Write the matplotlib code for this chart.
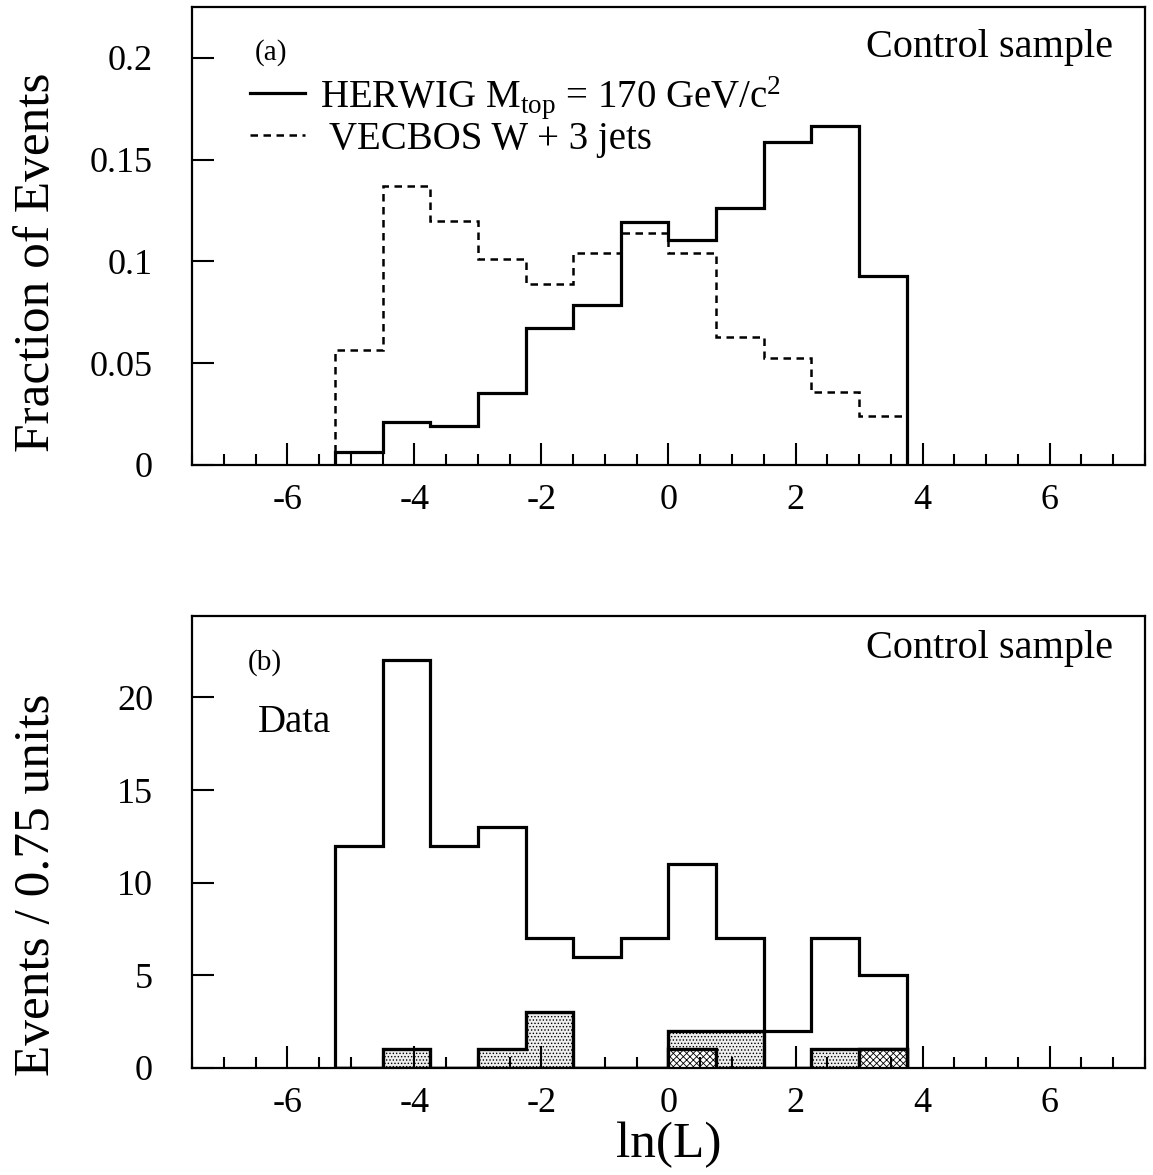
import matplotlib

matplotlib.use("Agg")
import matplotlib.pyplot as plt  # noqa: E402
import numpy as np  # noqa: E402
from matplotlib.ticker import FormatStrFormatter, MultipleLocator  # noqa: E402

# bin edges of ln(L), 0.75 units wide
EDGES = np.arange(-5.25, 3.76, 0.75)

# (a) normalised Monte Carlo shapes
HERWIG = [0.0065, 0.0212, 0.0190, 0.0352, 0.0673, 0.0784,
          0.1193, 0.1103, 0.1261, 0.1585, 0.1667, 0.0926]
VECBOS = [0.0564, 0.1368, 0.1198, 0.1013, 0.0891, 0.1042,
          0.1141, 0.1042, 0.0629, 0.0523, 0.0359, 0.0240]

# (b) data counts, plus shaded sub-samples
DATA = [12, 22, 12, 13, 7, 6, 7, 11, 7, 2, 7, 5]
STIPPLED = [0, 1, 0, 1, 3, 0, 0, 2, 2, 0, 1, 1]
CROSSED = [0, 0, 0, 0, 0, 0, 0, 1, 0, 0, 0, 1]

plt.rcParams["font.family"] = ["Liberation Serif", "DejaVu Serif"]
plt.rcParams["mathtext.fontset"] = "custom"
plt.rcParams["mathtext.rm"] = "Liberation Serif"
plt.rcParams["mathtext.it"] = "Liberation Serif:italic"
plt.rcParams["axes.unicode_minus"] = False
plt.rcParams["hatch.linewidth"] = 0.6

TICK_SIZE = 26
LABEL_SIZE = 37


def style_axis(ax, ylim, ymajor, fmt):
    ax.set_xlim(-7.5, 7.5)
    ax.set_ylim(*ylim)
    ax.xaxis.set_major_locator(MultipleLocator(2))
    ax.xaxis.set_minor_locator(MultipleLocator(0.5))
    ax.yaxis.set_major_locator(MultipleLocator(ymajor))
    ax.yaxis.set_major_formatter(FormatStrFormatter(fmt))
    ax.tick_params(axis="both", which="both", direction="in", top=False, right=False,
                   labelsize=TICK_SIZE, width=1.5)
    ax.tick_params(axis="x", which="major", length=16, pad=14)
    ax.tick_params(axis="x", which="minor", length=8)
    ax.tick_params(axis="y", which="major", length=16, pad=28)
    for spine in ax.spines.values():
        spine.set_linewidth(1.6)


fig = plt.figure(figsize=(11.53, 11.75), dpi=100)
ax_a = fig.add_axes([0.1665, 0.6043, 0.8265, 0.3898])
ax_b = fig.add_axes([0.1665, 0.0911, 0.8265, 0.3847])

# ---- (a)
ax_a.stairs(HERWIG, EDGES, color="black", linewidth=2.3, baseline=0,
            label=r"HERWIG M$_{\rm top}$ = 170 GeV/c$^{2}$")
ax_a.stairs(VECBOS, EDGES, color="black", linewidth=1.8, linestyle=(0, (3, 2.2)),
            baseline=0, label=" VECBOS W + 3 jets")
style_axis(ax_a, (0, 0.225), 0.05, "%g")
ax_a.set_ylabel("Fraction of Events", fontsize=LABEL_SIZE)
ax_a.yaxis.set_label_coords(-0.138, 0.443)
ax_a.text(0.066, 0.90, "(a)", transform=ax_a.transAxes, fontsize=21, va="center", ha="left")
ax_a.text(0.966, 0.912, "Control sample", transform=ax_a.transAxes, fontsize=29,
          va="center", ha="right")
ax_a.legend(loc="upper left", bbox_to_anchor=(0.061, 0.854), frameon=False, fontsize=28,
            handlelength=1.4, handletextpad=0.4, labelspacing=0.0, borderpad=0,
            borderaxespad=0)

# ---- (b)
ax_b.stairs(STIPPLED, EDGES, fill=True, facecolor="#eeeeee", edgecolor="black",
            hatch=".....", linewidth=2.4, baseline=0)
ax_b.stairs(CROSSED, EDGES, fill=True, facecolor="white", edgecolor="black",
            hatch="xxxxx", linewidth=2.4, baseline=0)
ax_b.stairs(DATA, EDGES, color="black", linewidth=2.3, baseline=0)
style_axis(ax_b, (0, 24.4), 5, "%d")
ax_b.set_ylabel("Events / 0.75 units", fontsize=LABEL_SIZE)
ax_b.yaxis.set_label_coords(-0.138, 0.405)
ax_b.set_xlabel("ln(L)", fontsize=LABEL_SIZE)
ax_b.xaxis.set_label_coords(0.5, -0.118)
ax_b.text(0.059, 0.896, "(b)", transform=ax_b.transAxes, fontsize=21, va="center", ha="left")
ax_b.text(0.069, 0.765, "Data", transform=ax_b.transAxes, fontsize=28, va="center", ha="left")
ax_b.text(0.966, 0.929, "Control sample", transform=ax_b.transAxes, fontsize=29,
          va="center", ha="right")

fig.savefig("out.png", dpi=100, facecolor="white")
